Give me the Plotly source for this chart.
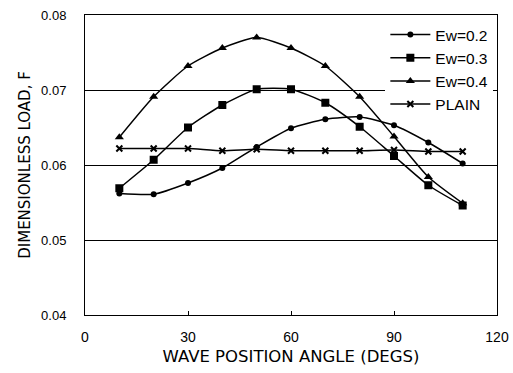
import plotly.graph_objects as go

angle = [10, 20, 30, 40, 50, 60, 70, 80, 90, 100, 110]
ew02 = [0.0562, 0.0561, 0.0576, 0.0596, 0.0624, 0.0649, 0.0661, 0.0664, 0.0653, 0.0630, 0.0602]
ew03 = [0.0569, 0.0607, 0.0650, 0.0680, 0.0701, 0.0701, 0.0683, 0.0651, 0.0612, 0.0573, 0.0546]
ew04 = [0.0637, 0.0691, 0.0732, 0.0756, 0.0770, 0.0756, 0.0732, 0.0691, 0.0638, 0.0584, 0.0549]
plain = [0.0622, 0.0622, 0.0622, 0.0619, 0.0621, 0.0619, 0.0619, 0.0619, 0.0620, 0.0618, 0.0618]

series = [
    ("Ew=0.2", ew02, "circle", 6),
    ("Ew=0.3", ew03, "square", 8),
    ("Ew=0.4", ew04, "triangle-up", 8),
    ("PLAIN", plain, "x-thin", 6),
]

fig = go.Figure()
for name, vals, sym, sz in series:
    fig.add_trace(go.Scatter(
        x=angle, y=vals, name=name, mode="lines+markers",
        line=dict(color="black", width=1.5, shape="spline", smoothing=0.6),
        marker=dict(symbol=sym, size=sz, color="black",
                    line=dict(color="black", width=2 if sym == "x-thin" else 0)),
    ))

font = "Liberation Sans, Arial, sans-serif"
wide = "DejaVu Sans, Verdana, sans-serif"
fig.update_layout(
    width=513, height=373,
    margin=dict(l=85, r=16, t=15, b=58),
    paper_bgcolor="white", plot_bgcolor="white",
    font=dict(family=font, size=13, color="black"),
    showlegend=True,
    legend=dict(x=0.729, y=0.99, xanchor="left", yanchor="top",
                bgcolor="white", borderwidth=0,
                font=dict(family=font, size=15.5, color="black"),
                itemwidth=40, tracegroupgap=0),
    xaxis=dict(range=[0, 120], tickvals=[0, 30, 60, 90, 120],
               showgrid=False, zeroline=False, automargin=False,
               showline=True, linecolor="black", linewidth=1, mirror=True,
               ticks="inside", ticklen=4, tickcolor="black",
               tickfont=dict(size=14), ticklabelstandoff=9,
               title=dict(text="WAVE POSITION ANGLE (DEGS)",
                          font=dict(family=wide, size=16.5), standoff=6)),
    yaxis=dict(range=[0.04, 0.08], tickvals=[0.04, 0.05, 0.06, 0.07, 0.08],
               ticktext=["0.04", "0.05", "0.06", "0.07", "0.08"],
               showgrid=True, gridcolor="black", gridwidth=1,
               zeroline=False, automargin=False,
               showline=True, linecolor="black", linewidth=1, mirror=True,
               ticks="", tickfont=dict(size=13), ticklabelstandoff=15,
               title=dict(text="DIMENSIONLESS LOAD, F",
                          font=dict(family=wide, size=15), standoff=6)),
)

fig.write_html("out.html")
